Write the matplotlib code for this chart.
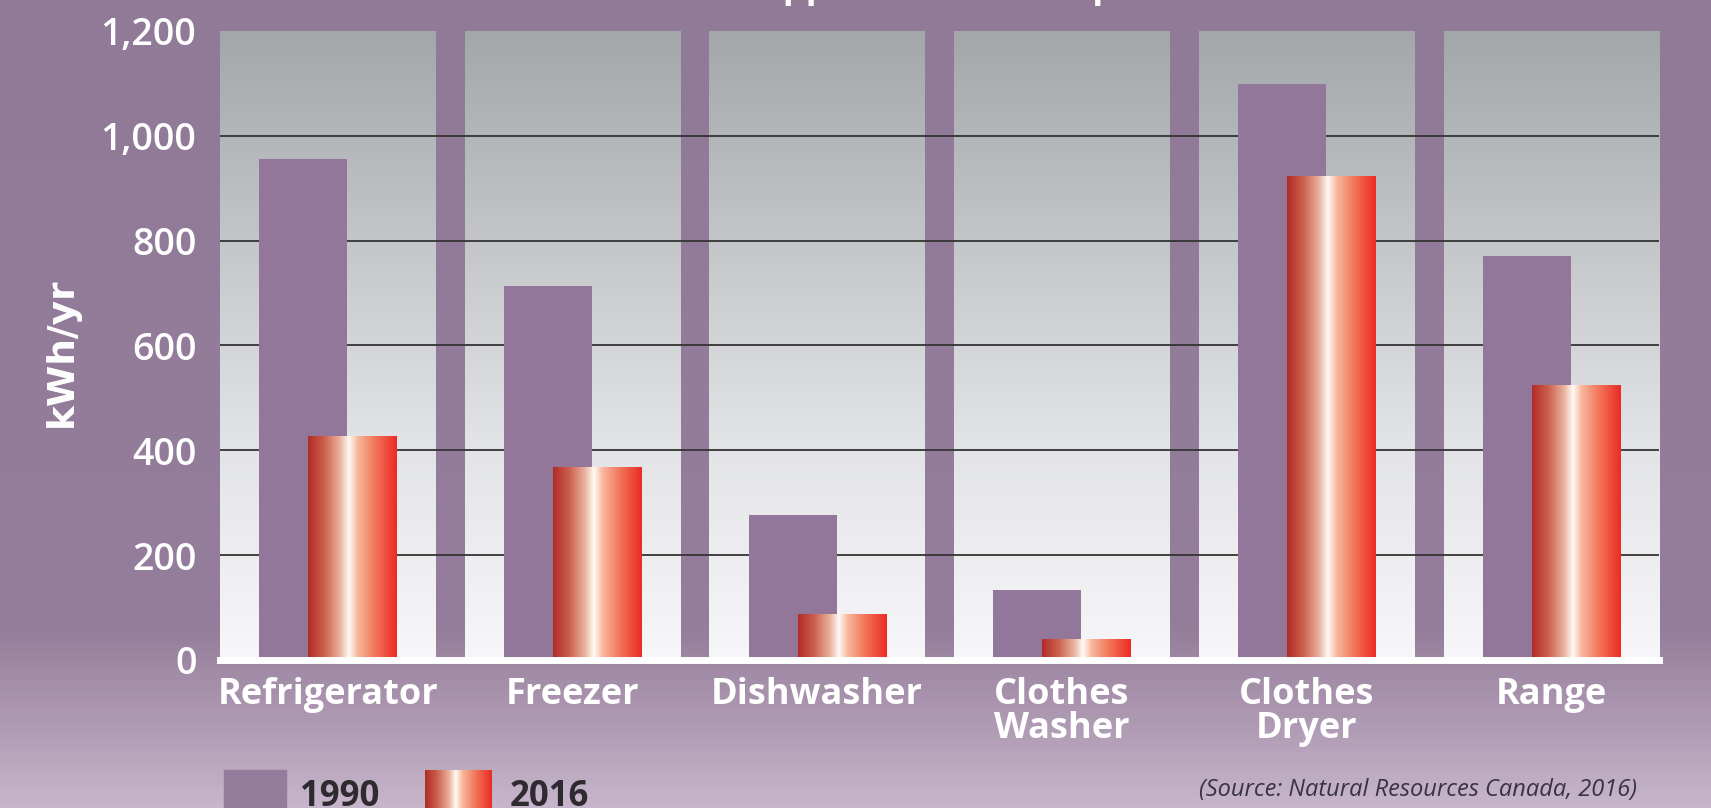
import numpy as np
import matplotlib.pyplot as plt
from matplotlib.colors import LinearSegmentedColormap
from matplotlib.patches import Rectangle

# appliance energy use, kWh per year
categories = ['Refrigerator', 'Freezer', 'Dishwasher', 'Clothes\nWasher', 'Clothes\nDryer', 'Range']
use_1990 = [956, 713, 277, 133, 1099, 770]
use_2016 = [426, 367, 86, 40, 923, 523]
yticks = [0, 200, 400, 600, 800, 1000, 1200]

W, H = 1711, 808
fig = plt.figure(figsize=(W / 100, H / 100), dpi=100)

# purple background, lighter towards the bottom
bg = fig.add_axes([0, 0, 1, 1])
bg.set_axis_off()
bg_cmap = LinearSegmentedColormap.from_list(
    'bg', [(0, '#c6b6cb'), (0.1, '#b09bb4'), (0.22, '#957e9b'), (1, '#917a98')])
vgrad = np.linspace(0, 1, 256).reshape(-1, 1)
hgrad = np.linspace(0, 1, 256).reshape(1, -1)
bg.imshow(vgrad, cmap=bg_cmap, aspect='auto', extent=[0, 1, 0, 1], origin='lower')

panel_cmap = LinearSegmentedColormap.from_list(
    'panel', [(0, '#f7f7f9'), (0.35, '#e2e3e6'), (1, '#a3a7a9')])
red_cmap = LinearSegmentedColormap.from_list(
    'red', [(0, '#b02c27'), (0.18, '#cc5f4c'), (0.36, '#e9b39f'), (0.46, '#fffaf4'),
            (0.56, '#f8b79e'), (0.75, '#f2775a'), (1, '#ec2a25')])

ax = fig.add_axes([220 / W, 1 - 660 / H, 1439 / W, 629 / H])
ax.patch.set_visible(False)
x = np.arange(len(categories))

# gray gradient panel behind each category
panels = ax.bar(x, yticks[-1], width=0.88, color='none', zorder=1)
for p in panels:
    ax.imshow(vgrad, cmap=panel_cmap, aspect='auto', origin='lower', zorder=1,
              extent=[p.get_x(), p.get_x() + p.get_width(), 0, p.get_height()])

ax.hlines(yticks[1:-1], -0.44, 5.44, color='#333333', lw=1.3, zorder=2)

ax.bar(x - 0.1, use_1990, width=0.36, color='#93779b', zorder=3)
bars16 = ax.bar(x + 0.1, use_2016, width=0.36, color='none', zorder=4)
for p in bars16:
    ax.imshow(hgrad, cmap=red_cmap, aspect='auto', zorder=4,
              extent=[p.get_x(), p.get_x() + p.get_width(), 0, p.get_height()])

ax.axhline(0, color='white', lw=5, zorder=5, clip_on=False)

ax.set_xlim(-0.44, 5.44)
ax.set_ylim(0, 1200)
for s in ax.spines.values():
    s.set_visible(False)

ax.set_yticks(yticks)
ax.set_yticklabels([f'{v:,}' for v in yticks])
ax.set_xticks(x)
ax.set_xticklabels(categories, linespacing=0.92)
ax.tick_params(length=0)
ax.tick_params(axis='y', pad=17, colors='white')
ax.tick_params(axis='x', pad=12, colors='white')
for lab in ax.get_yticklabels():
    lab.set_fontfamily('Open Sans')
    lab.set_fontweight('semibold')
    lab.set_fontsize(27)
for lab in ax.get_xticklabels():
    lab.set_fontfamily('Open Sans')
    lab.set_fontweight('bold')
    lab.set_fontsize(26)

fig.text(62 / W, 1 - 352 / H, 'kWh/yr', rotation=90, color='white', fontsize=27,
         family='Liberation Sans Narrow', fontweight='bold', ha='center', va='center')

# title cut off by the top edge
fig.text(904 / W, 1 + 3 / H, 'Annual Appliance Consumption', color='white', fontsize=26,
         family='Open Sans', fontweight='bold', ha='center', va='baseline')

# legend
bg.add_patch(Rectangle((224 / W, 0), 62 / W, 38 / H, color='#957c9c', zorder=2))
bg.imshow(hgrad, cmap=red_cmap, aspect='auto', zorder=2,
          extent=[425 / W, 491 / W, 0, 38 / H])
bg.set_xlim(0, 1)
bg.set_ylim(0, 1)
fig.text(300 / W, 1 - 806 / H, '1990', color='#2e2a30', fontsize=25,
         family='Open Sans', fontweight='bold', ha='left', va='baseline')
fig.text(510 / W, 1 - 806 / H, '2016', color='#2e2a30', fontsize=25,
         family='Open Sans', fontweight='bold', ha='left', va='baseline')

fig.text(1637 / W, 1 - 790 / H, '(Source: Natural Resources Canada, 2016)', color='#3a3340',
         fontsize=17, family='Open Sans', style='italic', ha='right', va='center')

fig.savefig('out.png', dpi=100)
